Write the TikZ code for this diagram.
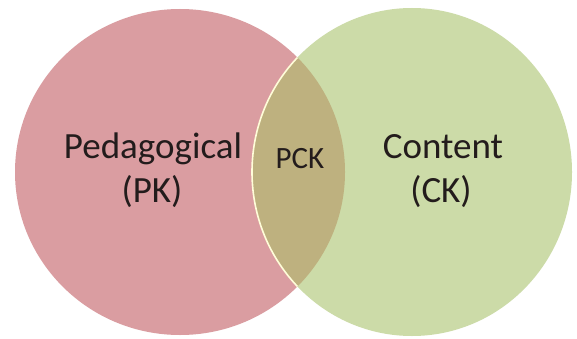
\documentclass[tikz,border=0pt]{standalone}
\usepackage{fontspec}
\setmainfont{Carlito}
\definecolor{pinkfill}{RGB}{218,157,161}
\definecolor{greenfill}{RGB}{204,219,168}
\definecolor{olivefill}{RGB}{190,177,127}
\definecolor{txt}{RGB}{35,28,28}
\tikzset{
  big/.style={font=\fontsize{37}{44}\selectfont, text=txt, inner sep=0pt, anchor=base},
  small/.style={font=\fontsize{31}{36}\selectfont, text=txt, inner sep=0pt, anchor=base}
}
\begin{document}
\begin{tikzpicture}[x=1pt,y=1pt]
\useasboundingbox (0,0) rectangle (577,338);
\fill[white] (0,0) rectangle (577,338);
% left circle
\fill[pinkfill] (180,166) ellipse [x radius=165, y radius=163];
% right circle
\fill[greenfill] (412,166) ellipse [x radius=160, y radius=164];
% intersection
\begin{scope}
  \clip (180,166) ellipse [x radius=165, y radius=163];
  \fill[olivefill] (412,166) ellipse [x radius=160, y radius=164];
  \draw[white!85!yellow, line width=1.6pt] (412,166) ellipse [x radius=160, y radius=164];
\end{scope}
\node[big] (ped) at (153,180) {Pedagogical};
\node[big] (pk) at (152,136) {(PK)};
\node[big] (con) at (443,180) {Content};
\node[big] (ck) at (441,136) {(CK)};
\node[small] (pck) at (300,170) {PCK};
\end{tikzpicture}
\end{document}
